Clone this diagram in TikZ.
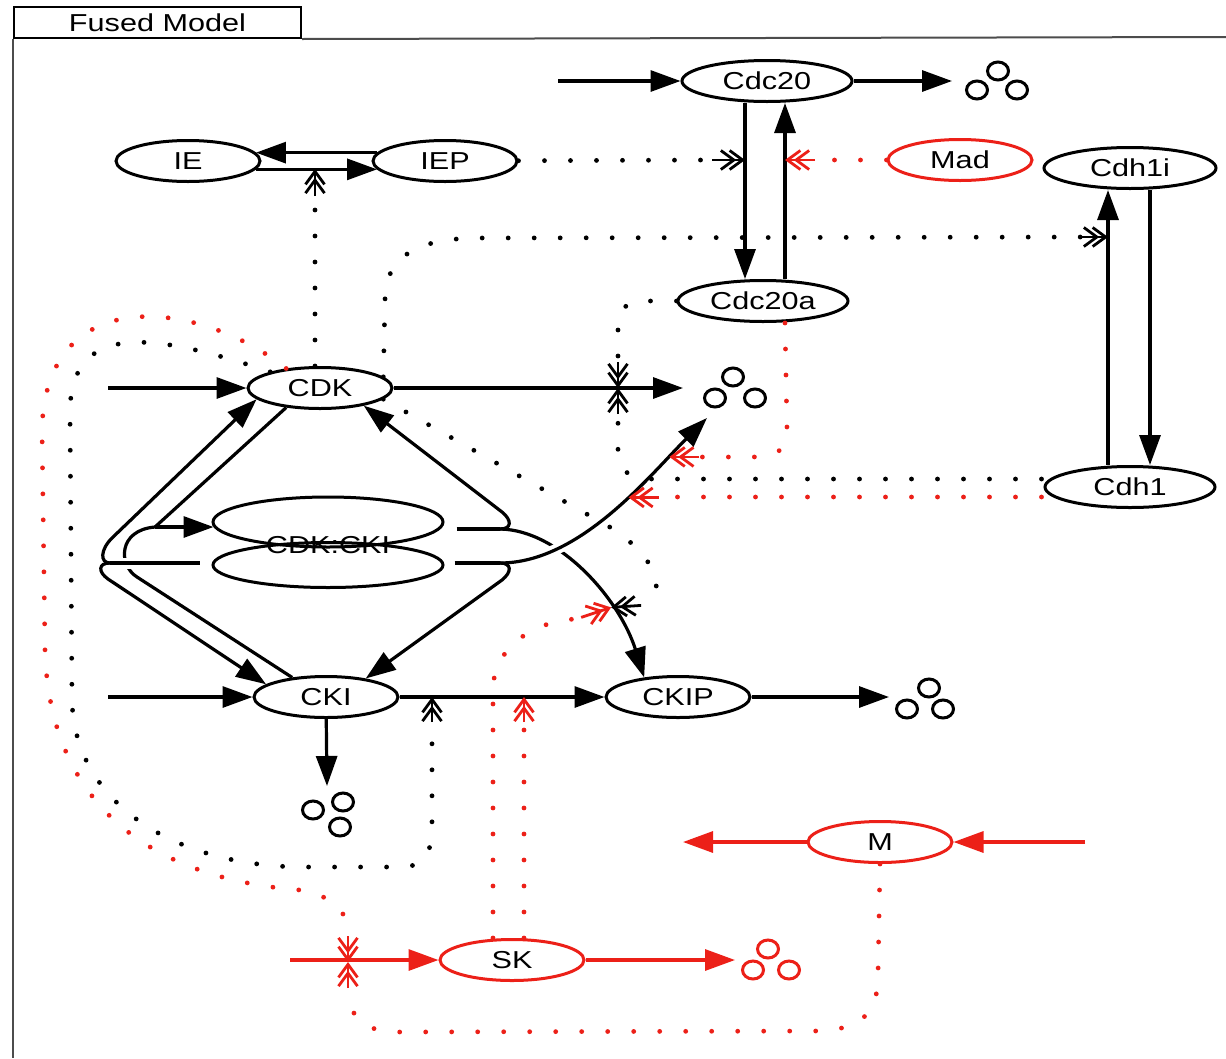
\documentclass[tikz,border=0pt]{standalone}
\usepackage{fontspec}
\setmainfont{Liberation Sans}[FakeStretch=1.25]
\usetikzlibrary{shapes.geometric,arrows.meta,calc}
\definecolor{mred}{RGB}{236,32,24}
\begin{document}
\begin{tikzpicture}[x=1pt,y=-1pt,
  every node/.style={font=\fontsize{24.5}{24.5}\selectfont},
  ent/.style={ellipse,draw,line width=3pt,minimum width=144pt,minimum height=41pt,inner sep=0pt},
  entR/.style={ent,draw=mred},
  plain/.style={line width=3.2pt},
  reac/.style={line width=3.2pt,-{Triangle[length=30pt,width=21pt]}},
  reacR/.style={reac,color=mred},
  halo/.style={preaction={draw=white,line width=11pt,-}},
  dots/.style={line width=4.8pt,line cap=round,dash pattern=on 0pt off 26pt},
  dotsR/.style={dots,color=mred},
  modtip/.style={line width=2.8pt,-{Straight Barb[length=13pt,width=19pt,sep=-8pt]Straight Barb[length=13pt,width=19pt]}},
  modtipR/.style={modtip,color=mred},
  sinkc/.style={line width=3pt}
]
\useasboundingbox (0,0) rectangle (1226,1058);

% frame and title tab
\node[draw,line width=2pt,minimum width=287pt,minimum height=31pt,anchor=north west,inner sep=0pt] (hdr) at (13,6) {Fused Model};
\draw[line width=2pt,black!70] (hdr.south east) -- (1226,37);
\draw[line width=2pt,black!70] (hdr.south west) -- (13,1058);

% species
\node[ent] (IE) at (188,161) {IE};
\node[ent] (IEP) at (445,161) {IEP};
\node[ent,minimum width=170pt] (Cdc20) at (767,81) {Cdc20};
\node[entR] (Mad) at (960,160) {Mad};
\node[ent,minimum width=172pt] (Cdh1i) at (1130,168) {Cdh1i};
\node[ent,minimum width=170pt] (Cdc20a) at (763,301) {Cdc20a};
\node[ent] (CDK) at (320,388) {CDK};
\node[ent,minimum width=230pt,minimum height=50pt] (cxU) at (328,522) {};
\node[ent,minimum width=230pt,minimum height=45pt] (cxL) at (328,565) {};
\node (cx) at (328,545) {CDK:CKI};
\node[ent,minimum width=170pt] (Cdh1) at (1130,487) {Cdh1};
\node[ent] (CKI) at (326,697) {CKI};
\node[ent] (CKIP) at (678,697) {CKIP};
\node[entR] (M) at (880,842) {M};
\node[entR] (SK) at (512,960) {SK};

% free ends, junctions and modifier targets
\coordinate (c20src) at (558,81);
\coordinate (s1) at (952,81);
\coordinate (cdksrc) at (108,388);
\coordinate (s2) at (683,388);
\coordinate (s2b) at (707,418);
\coordinate (ckisrc) at (108,697);
\coordinate (s3) at (889,697);
\coordinate (s4) at (327,786);
\coordinate (msrc) at (1085,842);
\coordinate (mout) at (683,842);
\coordinate (sksrc) at (290,960);
\coordinate (s5) at (735,960);
\coordinate (J1) at (155,527);
\coordinate (J2) at (110,563);
\coordinate (J3) at (500,529);
\coordinate (J4) at (500,563);
\coordinate (mIE) at (315,169);
\coordinate (mA) at (745,160);
\coordinate (mB) at (785,160);
\coordinate (mC) at (1108,237);
\coordinate (mD) at (618,388);
\coordinate (mI) at (432,697);
\coordinate (mH) at (524,697);
\coordinate (mSK) at (348,962);

% degradation products
\foreach \x/\y in {998/71,977/90,1017/90,733/377,715/398,755/398,929/688,907/709,943/709,343/802,313/810,340/827}
  \draw[sinkc] (\x,\y) ellipse [x radius=10.5pt,y radius=9pt];
\foreach \x/\y in {768/949,753/970,789/970}
  \draw[sinkc,mred] (\x,\y) ellipse [x radius=10.5pt,y radius=9pt];

% IE / IEP cycle
\draw[reac] (IEP.173) -- (IE.7);
\draw[reac] (IE.-7) -- (IEP.187);

% Cdc20 cycle
\draw[reac] (c20src) -- (Cdc20);
\draw[reac] (Cdc20) -- (s1);
\draw[reac] ($(Cdc20.south)+(-22,0)$) -- ($(Cdc20a.north)+(-18,0)$);
\draw[reac] ($(Cdc20a.north)+(22,0)$) -- ($(Cdc20.south)+(18,0)$);

% Cdh1 cycle
\draw[reac] ($(Cdh1.north)+(-22,0)$) -- ($(Cdh1i.south)+(-22,0)$);
\draw[reac] ($(Cdh1i.south)+(20,0)$) -- ($(Cdh1.north)+(20,0)$);

% CDK synthesis and degradation
\draw[reac] (cdksrc) -- (CDK);
\draw[reac] (CDK) -- (s2);

% complex formation and breakdown
\draw[plain] (CDK.210) -- (J1);
\draw[plain] (CKI.150) -- (137,577) .. controls (118,565) and (118,530) .. (J1);
\draw[reac] (J1) -- ($(cxU.west)+(2,5)$);
\draw[plain,halo] ($(cxL.west)+(-12,-2)$) -- (J2);
\draw[reac] (J2) .. controls (100,563) and (100,550) .. (112,538) -- (CDK.190);
\draw[reac] (J2) .. controls (98,563) and (98,572) .. (108,579) -- (CKI.168);
\draw[plain] ($(cxU.east)+(12,7)$) -- (J3);
\draw[reac] (J3) .. controls (512,529) and (512,520) .. (502,512) -- (CDK.-22);
\draw[reac] (J3) .. controls (560,530) and (620,600) .. (CKIP.150) coordinate[pos=.68] (mG);
\draw[reac,halo] (J4) .. controls (580,563) and (650,475) .. (s2b) coordinate[pos=.58] (mE) coordinate[pos=.79] (mF);
\draw[plain] ($(cxL.east)+(10,-2)$) -- (J4);
\draw[reac] (J4) .. controls (512,563) and (512,572) .. (502,580) -- (CKI.25);

% CKI
\draw[reac] (ckisrc) -- (CKI);
\draw[reac] (CKI) -- (s4);
\draw[reac] (CKI) -- (CKIP);
\draw[reac] (CKIP) -- (s3);

% M and SK
\draw[reacR] (msrc) -- (M);
\draw[reacR] (M) -- (mout);
\draw[reacR] (sksrc) -- (SK);
\draw[reacR] (SK) -- (s5);

% black modifiers
\draw[dots] ($(CDK.north)+(-5,0)$) -- (315,200);
\draw[modtip] (315,196) -- (mIE);
\draw[dots] (IEP) -- (710,160);
\draw[modtip] (712,160) -- (mA);
\draw[dots] (CDK.10) -- (385,300) .. controls (385,255) and (420,238) .. (480,238) -- (1085,237);
\draw[modtip] (1082,237) -- (mC);
\draw[dots,rounded corners=22pt] (Cdc20a) -- (618,301) -- (618,365);
\draw[modtip] (618,362) -- (mD);
\draw[dots,rounded corners=26pt] ($(Cdh1.west)+(-2,-8)$) -- (618,479) -- (618,412);
\draw[modtip] (618,414) -- (mD);
\draw[dots] (CDK.-10) -- (615,530) .. controls (650,555) and (668,585) .. (648,604);
\draw[modtip] ($(mG)+(30,-2)$) -- (mG);
\draw[dots] (CDK.162) .. controls (160,335) and (72,318) .. (70,410) -- (72,700) .. controls (74,800) and (170,865) .. (300,867) -- (400,867) .. controls (428,867) and (432,850) .. (432,822) -- (432,725);
\draw[modtip] (432,722) -- (mI);

% red modifiers
\draw[dotsR] (Mad) -- (820,160);
\draw[modtipR] (815,160) -- (mB);
\draw[dotsR] ($(Cdh1.west)+(-2,10)$) -- (665,497);
\draw[modtipR] ($(mE)+(30,0)$) -- (mE);
\draw[dotsR] ($(Cdc20a.south)+(22,0)$) -- (787,430) .. controls (787,452) and (775,457) .. (750,457) -- (700,457);
\draw[modtipR] ($(mF)+(30,0)$) -- (mF);
\draw[dotsR] ($(SK.north)+(-19,0)$) -- (493,690) .. controls (493,650) and (530,622) .. (575,619);
\draw[modtipR] ($(mG)+(-30,10)$) -- (mG);
\draw[dotsR] ($(SK.north)+(12,0)$) -- (524,725);
\draw[modtipR] (524,722) -- (mH);
\draw[dotsR] (CDK.150) .. controls (200,300) and (45,280) .. (42,430) -- (45,650) .. controls (50,820) and (170,880) .. (300,890) .. controls (338,897) and (348,915) .. (348,935);
\draw[modtipR] (348,936) -- (mSK);
\draw[dotsR] (M.south) -- (878,975) .. controls (878,1015) and (860,1030) .. (815,1031) -- (400,1032) .. controls (360,1032) and (349,1015) .. (349,990);
\draw[modtipR] (348,988) -- (mSK);
\end{tikzpicture}
\end{document}
